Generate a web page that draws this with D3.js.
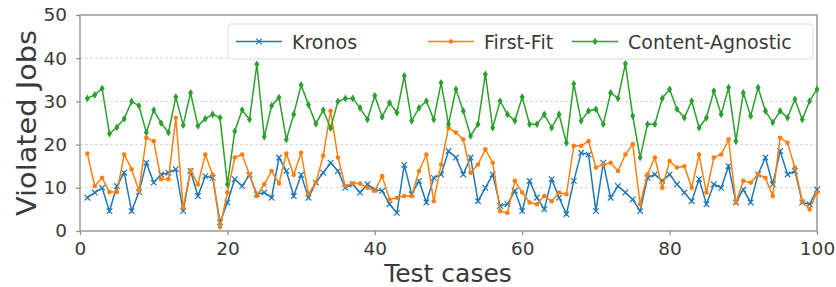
<!DOCTYPE html>
<html><head><meta charset="utf-8">
<script src="https://cdn.jsdelivr.net/npm/d3@7"></script>
<style>body{margin:0;background:#fff}svg{display:block}</style>
</head><body>
<svg id="c" width="836" height="287"></svg>
<script>
const seriesNames = ["Kronos", "First-Fit", "Content-Agnostic"];
const seriesColors = ["#1f77b4", "#ff7f0e", "#2ca02c"];
const xTicks = [0, 20, 40, 60, 80, 100];
const yTicks = [0, 10, 20, 30, 40, 50];
const kronos = [7.7,8.9,10,4.6,10.4,13.5,4.6,9,15.8,11.2,13.1,13.5,14.3,4.6,13.9,8.1,12.7,12.3,2,6.6,
12,10.4,13,8.5,8.9,7.7,17,13.9,8.1,13,7.7,11.2,13.5,15.8,13.9,10,10.8,8.9,10.8,9.6,
9.3,6.2,4.2,15.3,8.5,11.6,6.6,12.3,13.1,18.5,17,13.1,17,6.9,10,13.1,5.8,6.2,9.3,4.6,
11.6,7.7,5,12,7.7,3.9,11.6,18.1,17.7,4.6,15.8,7.7,10.4,8.9,7.3,4.6,12.3,13.1,11.6,13.1,
10.8,8.9,6.9,12,6.2,10.8,10,15,6.6,9.6,6.6,13.1,17,10.8,18.5,13.1,13.9,6.6,6.2,9.6];
const firstFit = [17.9,10.4,12.3,9,9,17.7,14.3,9.3,21.6,20.8,12,12,26.2,5.4,14,10.8,17.7,13,0.9,8.9,
17,17.7,13,8.1,10.8,13.9,11,17.9,13,18.1,8.6,11.2,17.4,27.8,17,10.4,11,11,10,9.3,
12.7,7.3,7.7,8.1,8.1,13.9,17.7,6.9,15.4,23.9,22.8,21.2,13.5,15.4,18.9,15.8,4.6,4.2,11.6,8.9,
6.6,6.2,8.1,6.9,8.9,8.5,19.7,19.7,20.8,14.7,15.4,15.8,13.9,17.7,20.1,6.2,13.1,17,10,16.2,
14.7,15,10,17.7,8.9,17,17.7,21.2,6.6,11.6,11.2,13.1,12.3,8.1,21.6,20.4,14.7,6.9,5,8.9];
const contentAgnostic = [30.7,31.5,33,22.5,24,26,30,29,22.8,28,25,22.8,31,24.5,32,24.3,26,27,26.2,10.8,
23.1,28,25.8,38.6,21.8,29,30.9,21.2,27,33.8,29.2,24.8,28,23.8,30,30.7,30.7,28.5,25.8,31.3,
26.4,29.7,27.4,35.9,25.5,28.5,30.1,25.8,34.3,24.7,32.8,27.8,22,24.7,36.3,23.9,30.1,27,25.5,31,
24.7,24.7,27,23.9,27,20.4,34.1,25.5,27.8,28.2,24.7,32,30.7,38.7,26.6,17,24.7,24.7,30.7,32.8,
28.2,26.2,30.1,23.9,26.2,32.4,27,33.2,20.8,32,26.6,33.2,27.8,25.1,27.8,26.2,30.5,25.8,30.1,32.8];

const data = [kronos, firstFit, contentAgnostic];
const svg = d3.select("#c");
const m = {l:80, r:19, t:15, b:56};
const W = 836, H = 287;
const x = d3.scaleLinear().domain([0,100]).range([m.l, W-m.r]);
const y = d3.scaleLinear().domain([0,50]).range([H-m.b, m.t]);
const font = "DejaVu Sans, sans-serif";
const txt = "#3a3a3a";

// grid
svg.append("g").selectAll("line").data(yTicks.slice(1,-1)).join("line")
  .attr("x1", m.l).attr("x2", W-m.r).attr("y1", d=>y(d)).attr("y2", d=>y(d))
  .attr("stroke", "#d4d4d4").attr("stroke-width", 1).attr("stroke-dasharray", "3,2");

// axes
const xa = svg.append("g").attr("transform", `translate(0,${H-m.b})`)
  .call(d3.axisBottom(x).tickValues(xTicks).tickSize(4).tickPadding(7));
const ya = svg.append("g").attr("transform", `translate(${m.l},0)`)
  .call(d3.axisLeft(y).tickValues(yTicks).tickSize(4).tickPadding(9));
[xa, ya].forEach(a => {
  a.select(".domain").remove();
  a.selectAll(".tick line").attr("stroke", "#888").attr("stroke-width", 1.2);
  a.selectAll(".tick text").attr("font-family", font).attr("font-size", 18.5).attr("fill", txt);
});

// frame
svg.append("rect").attr("x", m.l).attr("y", m.t).attr("width", W-m.l-m.r).attr("height", H-m.t-m.b)
  .attr("fill", "none").attr("stroke", "#999").attr("stroke-width", 1.5);

const line = d3.line().x((d,i)=>x(i+1)).y(d=>y(d));

function marker(g, type, color, cx, cy) {
  if (type === 0) {
    const s = 2.8;
    g.append("path").attr("d", `M${cx-s},${cy-s}L${cx+s},${cy+s}M${cx-s},${cy+s}L${cx+s},${cy-s}`)
      .attr("stroke", color).attr("stroke-width", 1.2).attr("fill", "none");
  } else if (type === 1) {
    g.append("circle").attr("cx", cx).attr("cy", cy).attr("r", 2.3).attr("fill", color);
  } else {
    g.append("path").attr("d", `M${cx},${cy-3.8}L${cx+2.5},${cy}L${cx},${cy+3.8}L${cx-2.5},${cy}Z`)
      .attr("fill", color);
  }
}

data.forEach((vals, k) => {
  const g = svg.append("g");
  g.append("path").attr("d", line(vals)).attr("fill", "none")
    .attr("stroke", seriesColors[k]).attr("stroke-width", 1.5);
  vals.forEach((v, i) => marker(g, k, seriesColors[k], x(i+1), y(v)));
});

// legend
const lg = svg.append("g");
lg.append("rect").attr("x", 228).attr("y", 24).attr("width", 585).attr("height", 35).attr("rx", 3)
  .attr("fill", "#fff").attr("fill-opacity", 0.85).attr("stroke", "#ddd");
const lx = [236, 428, 572];
seriesNames.forEach((n, k) => {
  const cy = 41.5;
  lg.append("line").attr("x1", lx[k]).attr("x2", lx[k]+46).attr("y1", cy).attr("y2", cy)
    .attr("stroke", seriesColors[k]).attr("stroke-width", 1.5);
  marker(lg, k, seriesColors[k], lx[k]+23, cy);
  lg.append("text").attr("x", lx[k]+56).attr("y", cy+7).text(n)
    .attr("font-family", font).attr("font-size", 19).attr("fill", txt);
});

// axis titles
svg.append("text").attr("x", 448).attr("y", 282).attr("text-anchor", "middle")
  .attr("font-family", font).attr("font-size", 25).attr("fill", txt).text("Test cases");
svg.append("text").attr("transform", `translate(36,${(m.t + H - m.b)/2}) rotate(-90)`)
  .attr("text-anchor", "middle").attr("font-family", font).attr("font-size", 26).attr("fill", txt)
  .attr("textLength", 186).attr("lengthAdjust", "spacingAndGlyphs")
  .text("Violated Jobs");
</script>
</body></html>
